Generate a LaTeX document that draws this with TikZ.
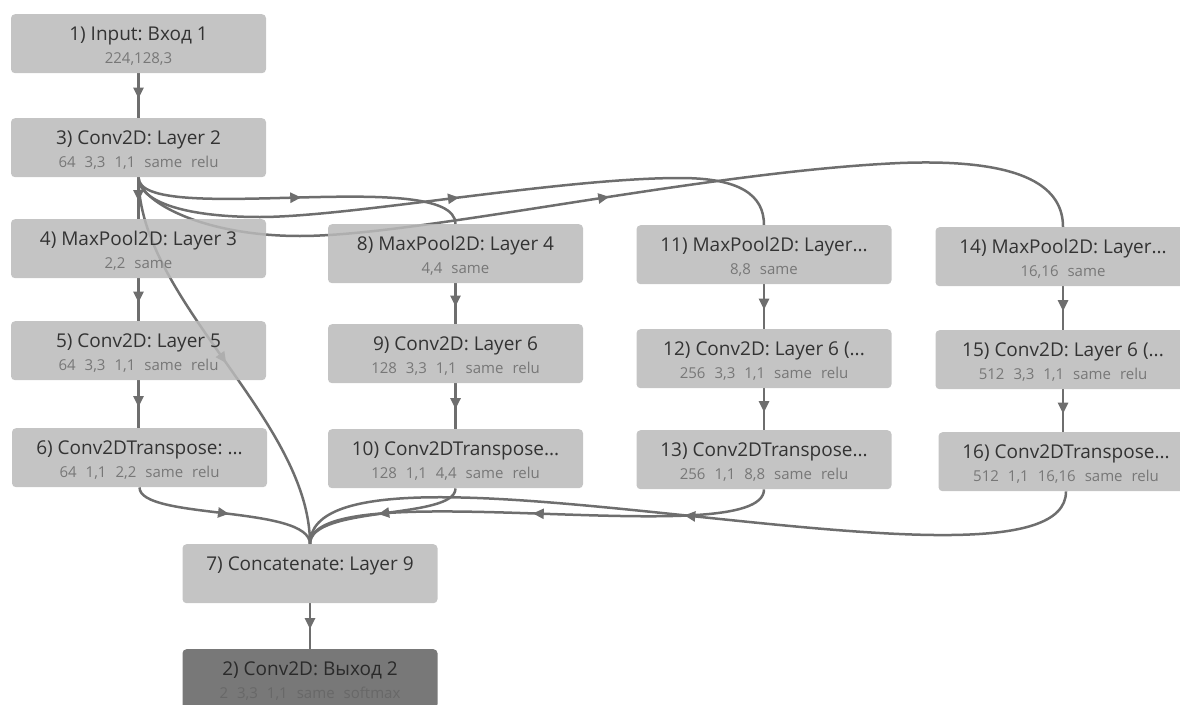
\documentclass[tikz,border=0pt]{standalone}
\usepackage{fontspec}
\setmainfont{Open Sans}
\usetikzlibrary{arrows.meta,decorations.markings}
\pgfdeclarelayer{bg}
\pgfsetlayers{bg,main}

\definecolor{boxfill}{HTML}{BABABA}
\definecolor{edgec}{HTML}{6E6E6E}
\definecolor{ttlc}{HTML}{333333}
\definecolor{subc}{HTML}{777777}
\definecolor{outfill}{HTML}{787878}
\definecolor{outttl}{HTML}{2A2A2A}
\definecolor{outsub}{HTML}{686868}

\newcommand\sgap{\hspace{0.6em}}

\tikzset{
  layer/.style={fill=boxfill, fill opacity=0.85, rounded corners=4pt,
    minimum width=255pt, minimum height=59pt, anchor=north, inner sep=0pt, draw=none},
  outlayer/.style={layer, fill=outfill, fill opacity=1},
  ttl/.style={anchor=base, text=ttlc, font=\frenchspacing\fontsize{19}{22}\selectfont, inner sep=0pt},
  sub/.style={anchor=base, text=subc, font=\frenchspacing\fontsize{15}{18}\selectfont, inner sep=0pt},
  conn/.style={color=edgec, draw, line width=2.5pt, postaction={decorate},
    decoration={markings, mark=at position 0.5 with {\arrow[xshift=3pt]{Triangle[length=11pt,width=10pt]}}}},
}

\begin{document}
\frenchspacing
\begin{tikzpicture}[x=1pt,y=-1pt]
\useasboundingbox (0,0) rectangle (1180,704);
\clip (0,0) rectangle (1180,704);

% column 1
\node[layer] (n1) at (138.5,14) {};
\node[ttl] (n1t) at ([yshift=-26.6pt]n1.north) {1) Input: Вход 1};
\node[sub] (n1s) at ([yshift=-49.5pt]n1.north) {224,128,3};

\node[layer] (n3) at (138.5,118) {};
\node[ttl] (n3t) at ([yshift=-26.6pt]n3.north) {3) Conv2D: Layer 2};
\node[sub] (n3s) at ([yshift=-49.5pt]n3.north) {64\sgap3,3\sgap1,1\sgap same\sgap relu};

\node[layer] (n4) at (138.5,219) {};
\node[ttl] (n4t) at ([yshift=-26.6pt]n4.north) {4) MaxPool2D: Layer 3};
\node[sub] (n4s) at ([yshift=-49.5pt]n4.north) {2,2\sgap same};

\node[layer] (n5) at (138.5,321) {};
\node[ttl] (n5t) at ([yshift=-26.6pt]n5.north) {5) Conv2D: Layer 5};
\node[sub] (n5s) at ([yshift=-49.5pt]n5.north) {64\sgap3,3\sgap1,1\sgap same\sgap relu};

\node[layer] (n6) at (139.5,428) {};
\node[ttl] (n6t) at ([yshift=-26.6pt]n6.north) {6) Conv2DTranspose: ...};
\node[sub] (n6s) at ([yshift=-49.5pt]n6.north) {64\sgap1,1\sgap2,2\sgap same\sgap relu};

% column 2
\node[layer] (n8) at (455.5,224) {};
\node[ttl] (n8t) at ([yshift=-26.6pt]n8.north) {8) MaxPool2D: Layer 4};
\node[sub] (n8s) at ([yshift=-49.5pt]n8.north) {4,4\sgap same};

\node[layer] (n9) at (455.5,324) {};
\node[ttl] (n9t) at ([yshift=-26.6pt]n9.north) {9) Conv2D: Layer 6};
\node[sub] (n9s) at ([yshift=-49.5pt]n9.north) {128\sgap3,3\sgap1,1\sgap same\sgap relu};

\node[layer] (n10) at (455.5,429) {};
\node[ttl] (n10t) at ([yshift=-26.6pt]n10.north) {10) Conv2DTranspose...};
\node[sub] (n10s) at ([yshift=-49.5pt]n10.north) {128\sgap1,1\sgap4,4\sgap same\sgap relu};

% column 3
\node[layer] (n11) at (764,225) {};
\node[ttl] (n11t) at ([yshift=-26.6pt]n11.north) {11) MaxPool2D: Layer...};
\node[sub] (n11s) at ([yshift=-49.5pt]n11.north) {8,8\sgap same};

\node[layer] (n12) at (764,329) {};
\node[ttl] (n12t) at ([yshift=-26.6pt]n12.north) {12) Conv2D: Layer 6 (...};
\node[sub] (n12s) at ([yshift=-49.5pt]n12.north) {256\sgap3,3\sgap1,1\sgap same\sgap relu};

\node[layer] (n13) at (764,430) {};
\node[ttl] (n13t) at ([yshift=-26.6pt]n13.north) {13) Conv2DTranspose...};
\node[sub] (n13s) at ([yshift=-49.5pt]n13.north) {256\sgap1,1\sgap8,8\sgap same\sgap relu};

% column 4
\node[layer] (n14) at (1063,227) {};
\node[ttl] (n14t) at ([yshift=-26.6pt]n14.north) {14) MaxPool2D: Layer...};
\node[sub] (n14s) at ([yshift=-49.5pt]n14.north) {16,16\sgap same};

\node[layer] (n15) at (1063,330) {};
\node[ttl] (n15t) at ([yshift=-26.6pt]n15.north) {15) Conv2D: Layer 6 (...};
\node[sub] (n15s) at ([yshift=-49.5pt]n15.north) {512\sgap3,3\sgap1,1\sgap same\sgap relu};

\node[layer] (n16) at (1066,432) {};
\node[ttl] (n16t) at ([yshift=-26.6pt]n16.north) {16) Conv2DTranspose...};
\node[sub] (n16s) at ([yshift=-49.5pt]n16.north) {512\sgap1,1\sgap16,16\sgap same\sgap relu};

% bottom
\node[layer] (n7) at (310,544) {};
\node[ttl] (n7t) at ([yshift=-26.6pt]n7.north) {7) Concatenate: Layer 9};

\node[outlayer] (n2) at (310,649) {};
\node[ttl, text=outttl] (n2t) at ([yshift=-26.6pt]n2.north) {2) Conv2D: Выход 2};
\node[sub, text=outsub] (n2s) at ([yshift=-49.5pt]n2.north) {2\sgap3,3\sgap1,1\sgap same\sgap softmax};

\begin{pgfonlayer}{bg}
% straight edges
\draw[conn] (n1.south) -- (n1.south |- n3.north);
\draw[conn] (n3.south) -- (n3.south |- n4.north);
\draw[conn] (n4.south) -- (n4.south |- n5.north);
\draw[conn] (n5.south) -- (n5.south |- n6.north);
\draw[conn] (n8.south) -- (n8.south |- n9.north);
\draw[conn] (n9.south) -- (n9.south |- n10.north);
\draw[conn] (n11.south) -- (n11.south |- n12.north);
\draw[conn] (n12.south) -- (n12.south |- n13.north);
\draw[conn] (n14.south) -- (n14.south |- n15.north);
\draw[conn] (n15.south) -- (n15.south |- n16.north);
\draw[conn] (n7.south) -- (n7.south |- n2.north);
% curved edges from layer 2
\draw[conn] (n3.south) .. controls (138.5,228) and (455.5,165) .. (n8.north);
\draw[conn] (n3.south) .. controls (138.5,200) and (180,217) .. (260,217)
  .. controls (350,217) and (560,178) .. (680,178)
  .. controls (740,178) and (764,195) .. (n11.north);
\draw[conn] (n3.south) .. controls (138.5,200) and (200,236) .. (300,236)
  .. controls (420,236) and (700,172) .. (900,163)
  .. controls (1030,158) and (1063,190) .. (n14.north);
\draw[conn] (n3.south) .. controls (138.5,300) and (310,420) .. (n7.north);
% into concatenate
\draw[conn] (n6.south) .. controls (139.5,520) and (310,505) .. (n7.north);
\draw[conn] (n10.south) .. controls (455.5,520) and (310,505) .. (n7.north);
\draw[conn] (n13.south) .. controls (764,555) and (310,470) .. (n7.north);
\draw[conn] (n16.south) .. controls (1066,620) and (310,410) .. (n7.north);
\end{pgfonlayer}
\end{tikzpicture}
\end{document}
